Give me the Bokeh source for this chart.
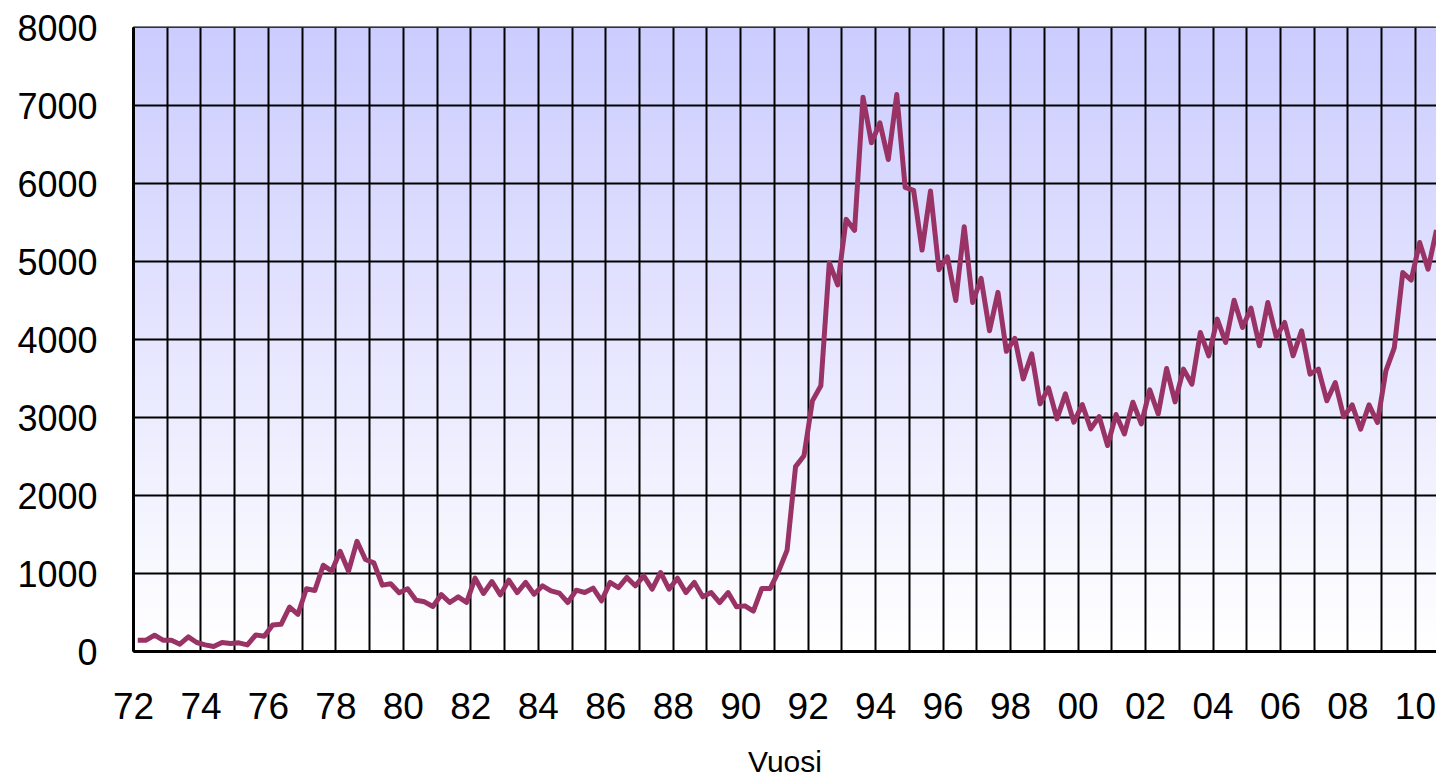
import numpy as np
from bokeh.plotting import figure
from bokeh.models import Range1d, FixedTicker
from bokeh.embed import file_html
from bokeh.resources import INLINE

# Quarterly data, 1972Q1 .. 2010Q3
first_year = 1972
values = [
    145, 145, 209, 145,      # 1972
    145, 94, 187, 115,       # 1973
    85, 64, 115, 102,        # 1974
    111, 85, 213, 196,       # 1975
    340, 349, 570, 477,      # 1976
    804, 783, 1106, 1030,    # 1977
    1285, 1030, 1413, 1179,  # 1978
    1136, 851, 868, 753,     # 1979
    805, 658, 637, 577,      # 1980
    730, 628, 701, 630,      # 1981
    940, 744, 897, 726,      # 1982
    915, 756, 885, 735,      # 1983
    842, 778, 748, 628,      # 1984
    786, 756, 812, 650,      # 1985
    885, 820, 949, 842,      # 1986
    970, 799, 1013, 799,     # 1987
    940, 756, 885, 701,      # 1988
    756, 628, 756, 573,      # 1989
    585, 519, 809, 809,      # 1990
    1030, 1300, 2370, 2510,  # 1991
    3213, 3406, 4985, 4699,  # 1992
    5540, 5399, 7107, 6522,  # 1993
    6778, 6308, 7141, 5950,  # 1994
    5913, 5147, 5904, 4895,  # 1995
    5060, 4500, 5445, 4475,  # 1996
    4784, 4112, 4604, 3849,  # 1997
    4015, 3495, 3815, 3175,  # 1998
    3379, 2983, 3303, 2940,  # 1999
    3166, 2854, 3012, 2641,  # 2000
    3038, 2790, 3196, 2918,  # 2001
    3354, 3045, 3628, 3200,  # 2002
    3620, 3427, 4090, 3791,  # 2003
    4261, 3962, 4504, 4154,  # 2004
    4402, 3919, 4474, 4034,  # 2005
    4218, 3791, 4111, 3556,  # 2006
    3620, 3214, 3449, 3009,  # 2007
    3162, 2850, 3162, 2936,  # 2008
    3598, 3897, 4859, 4761,  # 2009
    5244, 4902, 5402,        # 2010
]
tick_years = list(range(1972, 2011, 2))
tick_labels = ["72", "74", "76", "78", "80", "82", "84", "86", "88", "90",
               "92", "94", "96", "98", "00", "02", "04", "06", "08", "10"]
y_ticks = [0, 1000, 2000, 3000, 4000, 5000, 6000, 7000, 8000]
x_title = "Vuosi"

t = first_year + (np.arange(len(values)) + 0.5) / 4.0
x0, x1 = float(first_year), float(t[-1])
y0, y1 = y_ticks[0], y_ticks[-1]

p = figure(width=1436, height=780,
           x_range=Range1d(x0, x1), y_range=Range1d(y0, y1),
           output_backend="svg", toolbar_location=None,
           min_border_left=133, min_border_right=0,
           min_border_top=27, min_border_bottom=129)

# gradient background
n = 256
frac = np.linspace(0.0, 1.0, n)  # 0 bottom, 1 top
top_c = np.array([204, 204, 255])
bot_c = np.array([255, 255, 255])
img = np.empty((n, 1), dtype=np.uint32)
view = img.view(dtype=np.uint8).reshape((n, 1, 4))
for i, f in enumerate(frac):
    c = bot_c + (top_c - bot_c) * f
    view[i, 0, 0] = int(round(c[0]))
    view[i, 0, 1] = int(round(c[1]))
    view[i, 0, 2] = int(round(c[2]))
    view[i, 0, 3] = 255
p.image_rgba(image=[img], x=x0, y=y0, dw=x1 - x0, dh=y1 - y0, level="image")

p.line(t, values, line_color="#993366", line_width=5, line_join="round")

p.background_fill_color = "white"
p.border_fill_color = "white"
p.outline_line_color = "black"
p.outline_line_width = 2

# grids
p.xgrid.ticker = FixedTicker(ticks=list(range(1972, 2011)))
p.xgrid.grid_line_color = "black"
p.xgrid.grid_line_width = 2
p.ygrid.ticker = FixedTicker(ticks=y_ticks)
p.ygrid.grid_line_color = "black"
p.ygrid.grid_line_width = 2

# axes
p.xaxis.ticker = FixedTicker(ticks=tick_years)
p.xaxis.major_label_overrides = {yr: lbl for yr, lbl in zip(tick_years, tick_labels)}
p.yaxis.ticker = FixedTicker(ticks=y_ticks)
for ax in (p.xaxis[0], p.yaxis[0]):
    ax.axis_line_color = "black"
    ax.axis_line_width = 3
    ax.major_tick_line_color = None
    ax.minor_tick_line_color = None
    ax.major_tick_out = 0
    ax.major_tick_in = 0
    ax.major_label_text_font = "Liberation Sans"
    ax.major_label_text_color = "black"
p.xaxis.major_label_text_font_size = "37px"
p.yaxis.major_label_text_font_size = "36px"
p.xaxis.major_label_standoff = 41
p.yaxis.major_label_standoff = 36
p.xaxis.axis_label = x_title
p.xaxis.axis_label_text_font = "Liberation Sans"
p.xaxis.axis_label_text_font_size = "30px"
p.xaxis.axis_label_text_font_style = "normal"
p.xaxis.axis_label_text_color = "black"
p.xaxis.axis_label_standoff = 23

open("out.html", "w").write(file_html(p, INLINE))
